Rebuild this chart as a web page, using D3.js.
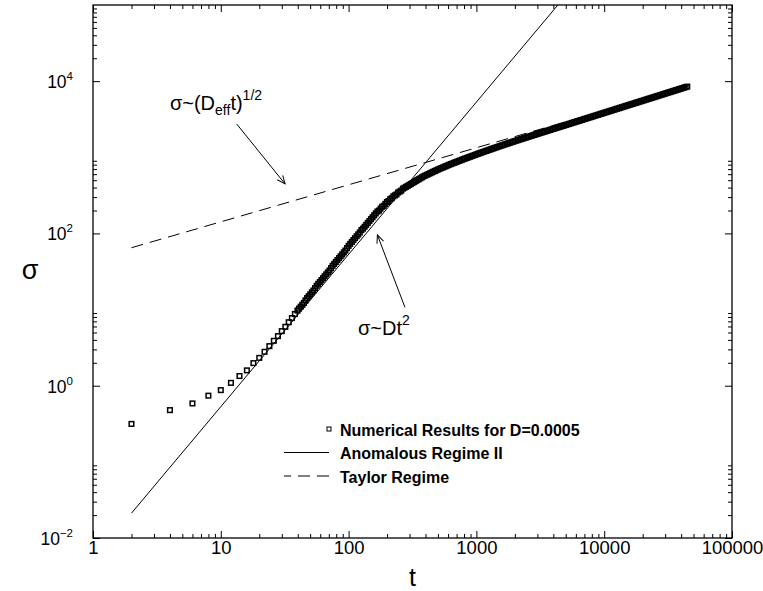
<!DOCTYPE html>
<html>
<head>
<meta charset="utf-8">
<script src="https://cdn.jsdelivr.net/npm/d3@7/dist/d3.min.js"></script>
<style>
  body { margin: 0; background: #fff; }
  svg text { font-family: "Liberation Sans", Arial, Helvetica, sans-serif; fill: #000; }
</style>
</head>
<body>
<svg id="chart" width="763" height="591"></svg>
<script>
// numerical results sigma(t)
var tEarly = [2,4,6,8,10,12,14,16,18,20,22,24,26,28,30,32,34,36,38];
var sigmaEarly = [0.315,0.478,0.585,0.74,0.875,1.09,1.34,1.59,1.98,2.32,2.79,3.31,3.89,4.48,5.21,5.94,6.82,7.74,8.75];

var tDec1 = [39.81,40.97,42.17,43.40,44.67,45.97,47.32,48.70,50.12,51.58,53.09,54.64,56.23,57.88,59.57,61.31,
  63.10,64.94,66.83,68.79,70.79,72.86,74.99,77.18,79.43,81.75,84.14,86.60,89.13,91.73,94.41,97.16];
var sigmaDec1 = [9.716,10.29,10.90,11.55,12.23,13.20,14.13,14.96,15.85,16.79,17.78,19.13,20.54,21.75,23.04,24.41,
  25.85,27.38,29.01,30.73,32.55,35.02,37.58,39.81,42.17,44.67,47.32,50.12,53.09,56.23,59.57,64.09];

var tDec2 = [100,102.9,105.9,109.0,112.2,115.5,118.9,122.3,125.9,129.6,133.4,137.3,141.3,145.4,149.6,154.0,
  158.5,163.1,167.9,172.8,177.8,183.0,188.4,193.9,199.5,205.4,211.4,217.5,223.9,230.4,237.1,244.1,251.2,258.5,
  266.1,273.8,281.8,290.1,298.5,307.3,316.2,325.5,335.0,344.8,354.8,365.2,375.8,386.8,398.1,409.7,421.7,434.0,
  446.7,459.7,473.2,487.0,501.2,515.8,530.9,546.4,562.3,578.8,595.7,613.1,631.0,649.4,668.3,687.9,708.0,728.6,
  749.9,771.8,794.3,817.5,841.4,866.0,891.3,917.3,944.1,971.6];
var sigmaDec2 = [68.79,72.86,77.18,81.75,86.60,91.73,97.16,102.9,110.7,115.5,122.3,129.6,137.3,145.4,154.0,163.1,
  172.8,183.0,193.9,199.5,211.4,223.9,230.4,244.1,258.5,266.1,281.8,290.1,307.3,316.2,325.5,344.8,354.8,365.2,
  386.8,398.1,409.7,421.7,434.0,446.7,459.7,473.2,487.0,501.2,515.8,530.9,546.4,562.3,575.4,588.8,602.5,616.6,
  630.9,645.6,660.7,676.1,691.8,706.1,720.7,735.6,750.8,766.3,782.1,798.3,814.8,830.2,845.9,861.9,878.2,894.8,
  911.7,928.9,946.4,963.4,980.8,998.4,1016,1035,1053,1072];

var tDec3 = [1000,1029,1059,1090,1122,1155,1189,1223,1259,1296,1334,1372,1413,1454,1496,1540,1585,1631,1679,1728,
  1778,1830,1884,1939,1995,2054,2113,2175,2239,2304,2371,2441,2512,2585,2661,2738,2818,2901,2985,3073,
  3162,3255,3350,3447,3548,3652,3758,3868,3981,4097,4217,4340,4467,4597,4732,4870,5012,5158,5309,5464,
  5623,5788,5957,6131,6310,6494,6683,6879,7079,7286,7499,7718,7943,8175,8414,8660,8913,9173,9441,9716];
var sigmaDec3 = [1092,1111,1130,1150,1170,1190,1211,1232,1253,1274,1296,1318,1340,1362,1385,1409,1432,1456,1479,1503,
  1528,1552,1578,1603,1629,1655,1681,1707,1734,1761,1788,1816,1845,1873,1902,1931,1961,1991,2022,2053,
  2085,2117,2149,2182,2216,2250,2284,2319,2355,2391,2428,2465,2503,2542,2581,2620,2661,2701,2743,2785,
  2828,2871,2915,2960,3006,3052,3099,3146,3195,3244,3294,3344,3396,3448,3501,3555,3609,3665,3721,3778];

var tDec4 = [10000,10292,10593,10902,11220,11548,11885,12232,12589,12957,13335,13725,14125,14538,14962,15399,
  15849,16312,16788,17278,17783,18302,18836,19387,19953,20535,21135,21752,22387,23041,23714,24406,25119,25852,
  26607,27384,28184,29007,29854,30726,31623,32546,33497,34475,35481,36517,37584,38681,39811,40973,42170,43401,44668];
var sigmaDec4 = [3836,3895,3955,4016,4078,4140,4204,4269,4334,4401,4468,4537,4607,4678,4749,4822,4897,4972,5048,
  5126,5205,5285,5366,5448,5532,5617,5703,5791,5880,5970,6062,6155,6250,6346,6443,6542,6643,6745,6849,6954,
  7061,7169,7279,7391,7505,7620,7737,7856,7977,8100,8224,8351,8479];

// fitted regimes (end points)
var anomalousT = [2, 4340];
var anomalousSigma = [0.0212, 100000];
var taylorT = [2, 45000];
var taylorSigma = [64.9, 8500];

// axes
var xTickValues = [1, 10, 100, 1000, 10000, 100000];
var xTickLabels = ["1", "10", "100", "1000", "10000", "100000"];
var yTickValues = [0.01, 1, 100, 10000];
var yTickExponents = ["\u22122", "0", "2", "4"];

var legendLabels = ["Numerical Results for D=0.0005", "Anomalous Regime II", "Taylor Regime"];

// annotations (data coords)
var arrowFromT = [13.3, 276], arrowFromSigma = [2740, 10.7];
var arrowToT = [31.8, 168], arrowToSigma = [448, 95.5];
var labelT = [4.0, 118.5], labelSigma = [4190, 4.6];

const pLeft = 93, pRight = 732, pTop = 5, pBottom = 538;
var svg = d3.select("#chart");

var x = d3.scaleLog().domain([1, 100000]).range([pLeft, pRight]);
var y = d3.scaleLog().domain([0.01, 100000]).range([pBottom, pTop]);

var xMinor = [];
xTickValues.slice(0, -1).forEach(function(v) { for (var k = 2; k < 10; k++) xMinor.push(v * k); });
var yMinor = [];
yTickValues.forEach(function(v) { for (var k = 2; k < 10; k++) yMinor.push(v * k); });

var defs = svg.append("defs");
defs.append("clipPath").attr("id", "plotclip")
  .append("rect").attr("x", pLeft).attr("y", pTop).attr("width", pRight - pLeft).attr("height", pBottom - pTop);

defs.append("marker")
  .attr("id", "arrow").attr("markerUnits", "userSpaceOnUse")
  .attr("markerWidth", 14).attr("markerHeight", 14)
  .attr("viewBox", "-11 -7 14 14").attr("refX", 0).attr("refY", 0)
  .attr("orient", "auto")
  .append("path").attr("d", "M-8,-3.5L0,0L-8,3.5")
  .attr("fill", "none").attr("stroke", "#000").attr("stroke-width", 1);

function addAxis(axis, tx, ty) {
  var g = svg.append("g").attr("transform", "translate(" + tx + "," + ty + ")").call(axis);
  g.select(".domain").remove();
  g.selectAll("line").attr("stroke", "#000").attr("stroke-width", 1);
  g.attr("font-family", null).attr("font-size", 18.5);
  return g;
}

// major + minor ticks on all four sides, pointing inward
addAxis(d3.axisBottom(x).tickValues(xTickValues).tickSize(-7).tickSizeOuter(0).tickPadding(3)
  .tickFormat(function(d, i) { return xTickLabels[i]; }), 0, pBottom);
addAxis(d3.axisBottom(x).tickValues(xMinor).tickSize(-4).tickSizeOuter(0).tickFormat(""), 0, pBottom);
addAxis(d3.axisTop(x).tickValues(xTickValues).tickSize(-7).tickSizeOuter(0).tickFormat(""), 0, pTop);
addAxis(d3.axisTop(x).tickValues(xMinor).tickSize(-4).tickSizeOuter(0).tickFormat(""), 0, pTop);
addAxis(d3.axisLeft(y).tickValues(yTickValues).tickSize(-7).tickSizeOuter(0).tickFormat(""), pLeft, 0);
addAxis(d3.axisLeft(y).tickValues(yMinor).tickSize(-4).tickSizeOuter(0).tickFormat(""), pLeft, 0);
addAxis(d3.axisRight(y).tickValues(yTickValues).tickSize(-7).tickSizeOuter(0).tickFormat(""), pRight, 0);
addAxis(d3.axisRight(y).tickValues(yMinor).tickSize(-4).tickSizeOuter(0).tickFormat(""), pRight, 0);

// y labels as 10^n
var yLab = svg.append("g").selectAll("text").data(yTickValues).enter().append("text")
  .attr("x", pLeft - 20).attr("y", function(d) { return y(d) + 7; })
  .attr("text-anchor", "end").attr("font-size", 17.5);
yLab.append("tspan").text("10");
yLab.append("tspan").attr("dy", -8).attr("font-size", 11.5)
  .text(function(d, i) { return yTickExponents[i]; });

svg.append("rect").attr("x", pLeft).attr("y", pTop)
  .attr("width", pRight - pLeft).attr("height", pBottom - pTop)
  .attr("fill", "none").attr("stroke", "#000").attr("stroke-width", 1.3);

svg.append("text").attr("x", (pLeft + pRight) / 2).attr("y", 586)
  .attr("text-anchor", "middle").attr("font-size", 25).text("t");
svg.append("text").attr("x", 30).attr("y", 279)
  .attr("text-anchor", "middle").attr("font-size", 27).text("\u03c3");

// lines
var line = d3.line().x(function(d) { return x(d[0]); }).y(function(d) { return y(d[1]); });
var plot = svg.append("g").attr("clip-path", "url(#plotclip)");
plot.append("path").attr("d", line(anomalousT.map(function(t, i) { return [t, anomalousSigma[i]]; })))
  .attr("fill", "none").attr("stroke", "#000").attr("stroke-width", 1);
plot.append("path").attr("d", line(taylorT.map(function(t, i) { return [t, taylorSigma[i]]; })))
  .attr("fill", "none").attr("stroke", "#000").attr("stroke-width", 1).attr("stroke-dasharray", "12,7");

// numerical points
var numT = tEarly.concat(tDec1, tDec2, tDec3, tDec4);
var numSigma = sigmaEarly.concat(sigmaDec1, sigmaDec2, sigmaDec3, sigmaDec4);
plot.append("g").selectAll("rect").data(numT).enter().append("rect")
  .attr("x", function(d) { return x(d) - 2.3; })
  .attr("y", function(d, i) { return y(numSigma[i]) - 2.3; })
  .attr("width", 4.6).attr("height", 4.6)
  .attr("fill", "none").attr("stroke", "#000").attr("stroke-width", 1.5);

// arrows
for (var a = 0; a < arrowFromT.length; a++) {
  svg.append("line")
    .attr("x1", x(arrowFromT[a])).attr("y1", y(arrowFromSigma[a]))
    .attr("x2", x(arrowToT[a])).attr("y2", y(arrowToSigma[a]))
    .attr("stroke", "#000").attr("stroke-width", 1).attr("marker-end", "url(#arrow)");
}

// annotation labels
var lab1 = svg.append("text").attr("x", x(labelT[0])).attr("y", y(labelSigma[0])).attr("font-size", 20);
lab1.append("tspan").text("\u03c3~(D");
lab1.append("tspan").attr("dy", 5).attr("font-size", 14).text("eff");
lab1.append("tspan").attr("dy", -5).text("t)");
lab1.append("tspan").attr("dy", -10).attr("font-size", 14).text("1/2");

var lab2 = svg.append("text").attr("x", x(labelT[1])).attr("y", y(labelSigma[1])).attr("font-size", 20);
lab2.append("tspan").text("\u03c3~Dt");
lab2.append("tspan").attr("dy", -10).attr("font-size", 14).text("2");

// legend
var lgX = 284, lgY = 429, rowH = 23.5;
var lg = svg.append("g");
lg.append("rect").attr("x", 329 - 2).attr("y", lgY - 2).attr("width", 4).attr("height", 4)
  .attr("fill", "none").attr("stroke", "#000").attr("stroke-width", 1);
lg.append("line").attr("x1", lgX).attr("x2", 329).attr("y1", lgY + rowH).attr("y2", lgY + rowH)
  .attr("stroke", "#000").attr("stroke-width", 1);
lg.append("line").attr("x1", 329).attr("x2", lgX).attr("y1", lgY + 2 * rowH).attr("y2", lgY + 2 * rowH)
  .attr("stroke", "#000").attr("stroke-width", 1).attr("stroke-dasharray", "12,7");
lg.selectAll("text").data(legendLabels).enter().append("text")
  .attr("x", 340).attr("y", function(d, i) { return lgY + 6.5 + i * rowH; })
  .attr("font-size", 16).attr("font-weight", "bold").text(function(d) { return d; });
</script>
</body>
</html>
